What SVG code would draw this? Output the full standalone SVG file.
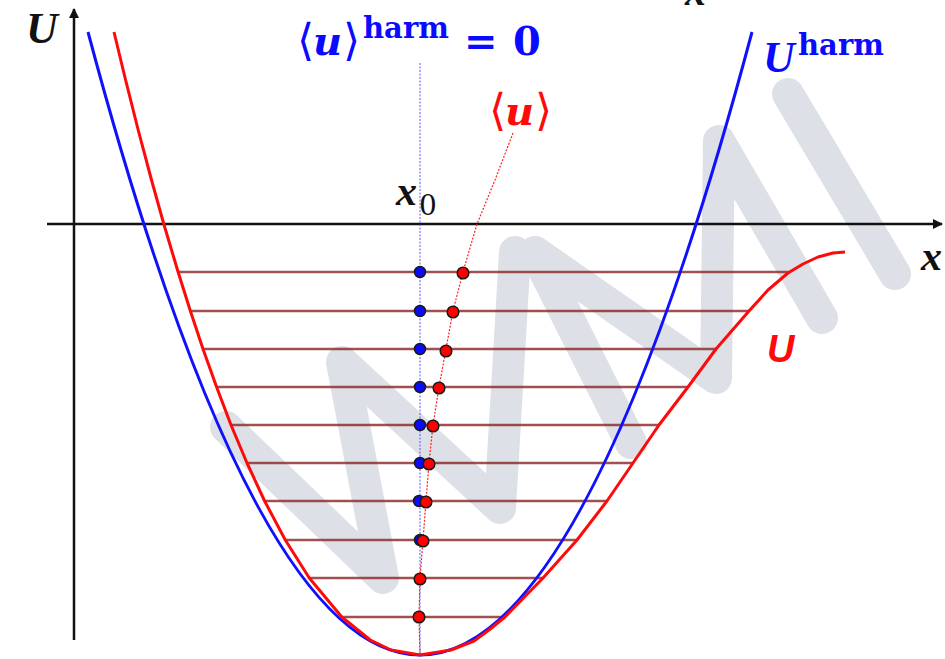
<svg xmlns="http://www.w3.org/2000/svg" width="945" height="659" viewBox="0 0 945 659">
<defs>
<style>
.wm{fill:none;stroke:#dde1e7;stroke-width:32;stroke-linecap:round;stroke-linejoin:round}
.axis{stroke:#111;stroke-width:2.5;fill:none}
.lvl{stroke:#8a2424;stroke-width:2.6;stroke-opacity:0.8}
.curveB{fill:none;stroke:#1010ff;stroke-width:3}
.curveR{fill:none;stroke:#ff0a0a;stroke-width:3;stroke-linejoin:round}
.dotB{fill:#0a0aff;stroke:#1a1a1a;stroke-width:1.5}
.dotR{fill:#f00;stroke:#1a1a1a;stroke-width:1.5}
.math{font-family:"DejaVu Serif","Liberation Serif",serif;font-weight:bold;font-style:italic}
.lmath{font-family:"Liberation Serif","Times New Roman",serif;font-weight:bold;font-style:italic}
.up{font-family:"DejaVu Serif","Liberation Serif",serif;font-weight:bold;font-style:normal}
.br{font-family:"DejaVu Sans","Noto Sans",sans-serif;font-weight:normal;font-style:normal}
</style>
<marker id="arr" viewBox="0 0 10 10" refX="9" refY="5" markerWidth="4" markerHeight="4" orient="auto" markerUnits="strokeWidth">
<path d="M0,0 L10,5 L0,10 z" fill="#111"/>
</marker>
</defs>
<rect width="945" height="659" fill="#fff"/>
<g id="watermark">
<polyline class="wm" points="226,427 383,578 342,362 500,508 515,252"/>
<polyline class="wm" points="631,443 535,252 716,378 719,141 822,318"/>
<polyline class="wm" points="788,94 895,274"/>
</g>
<g id="axes">
<line class="axis" x1="74" y1="640" x2="74" y2="9" marker-end="url(#arr)"/>
<line class="axis" x1="47" y1="224" x2="942" y2="224" marker-end="url(#arr)"/>
</g>
<g id="levels">
<line class="lvl" x1="178" y1="272" x2="790" y2="272"/>
<line class="lvl" x1="190" y1="311" x2="749" y2="311"/>
<line class="lvl" x1="203" y1="349" x2="716" y2="349"/>
<line class="lvl" x1="217" y1="387" x2="688" y2="387"/>
<line class="lvl" x1="231" y1="425" x2="659" y2="425"/>
<line class="lvl" x1="247" y1="463" x2="633" y2="463"/>
<line class="lvl" x1="265" y1="501" x2="607" y2="501"/>
<line class="lvl" x1="285" y1="540" x2="577" y2="540"/>
<line class="lvl" x1="309" y1="578" x2="543" y2="578"/>
<line class="lvl" x1="342" y1="617" x2="505" y2="617"/>
</g>
<g id="curves">
<path class="curveB" d="M88,32 Q420,1278 752,32"/>
<polyline class="curveR" points="114,32 125.6,80 138.2,130 151.5,180 163.8,224 178.1,272 190.4,311 203,349 216.6,387 231,425 247,463 264.6,501 285.3,540 309.3,578 341.8,617 370.3,640 391,650 420,655 451,650 474,641 489,630 505,617 543,578 577,540 607,501 633,463 659,425 688,387 716,349 749,311 768,290 788,273 803,264 818,257 833,253 845,252"/>
</g>
<g id="means">
<line x1="420" y1="63" x2="420" y2="655" stroke="#3030ff" stroke-width="1" stroke-dasharray="2 1.5" stroke-opacity="0.8"/>
<polyline points="513,133 495,180 477,224 463,272 453,311 446,349 439,387 433,425 429,463 426,501 423,540 420,578 419,617 420,655" fill="none" stroke="#ff2020" stroke-width="1.2" stroke-dasharray="2 1.5"/>
</g>
<g id="dots">
<circle class="dotB" cx="420" cy="272" r="5.5"/>
<circle class="dotB" cx="420" cy="311" r="5.5"/>
<circle class="dotB" cx="420" cy="349" r="5.5"/>
<circle class="dotB" cx="420" cy="387" r="5.5"/>
<circle class="dotB" cx="420" cy="425" r="5.5"/>
<circle class="dotB" cx="420" cy="463" r="5.5"/>
<circle class="dotB" cx="419" cy="501" r="5.5"/>
<circle class="dotB" cx="420" cy="540" r="5.5"/>
<circle class="dotR" cx="463" cy="273" r="5.8"/>
<circle class="dotR" cx="453" cy="312" r="5.8"/>
<circle class="dotR" cx="446" cy="351" r="5.8"/>
<circle class="dotR" cx="439" cy="388" r="5.8"/>
<circle class="dotR" cx="433" cy="426" r="5.8"/>
<circle class="dotR" cx="429" cy="464" r="5.8"/>
<circle class="dotR" cx="426" cy="502" r="5.8"/>
<circle class="dotR" cx="423" cy="541" r="5.8"/>
<circle class="dotR" cx="420" cy="579" r="5.8"/>
<circle class="dotR" cx="419" cy="617" r="5.8"/>
</g>
<g id="labels">
<text class="lmath" x="26" y="43" font-size="44" fill="#111">U</text>
<text class="lmath" x="685" y="5" font-size="42" fill="#111">x</text>
<text class="lmath" x="921" y="270" font-size="42" fill="#111">x</text>
<text x="396" y="205" fill="#111"><tspan class="lmath" font-size="42">x</tspan><tspan font-family="DejaVu Serif, serif" font-size="28" x="419" y="215">0</tspan></text>
<text fill="#0a0aff"><tspan class="br" x="297" y="55" font-size="44">⟨</tspan><tspan class="math" x="313" y="55" font-size="40">u</tspan><tspan class="br" x="343" y="55" font-size="44">⟩</tspan><tspan class="up" x="363" y="38" font-size="29">harm</tspan><tspan class="up" x="464" y="55" font-size="40">=</tspan><tspan class="up" x="513" y="55" font-size="40">0</tspan></text>
<text fill="#ff0a0a"><tspan class="br" x="489" y="125" font-size="44">⟨</tspan><tspan class="math" x="505" y="125" font-size="40">u</tspan><tspan class="br" x="535" y="125" font-size="44">⟩</tspan></text>
<text fill="#0a0aff"><tspan class="lmath" x="763" y="72" font-size="44">U</tspan><tspan class="up" x="798" y="55" font-size="29">harm</tspan></text>
<text x="767" y="362" font-family="Liberation Sans, Arial, sans-serif" font-weight="bold" font-style="italic" font-size="38" fill="#ff0a0a">U</text>
</g>
</svg>
